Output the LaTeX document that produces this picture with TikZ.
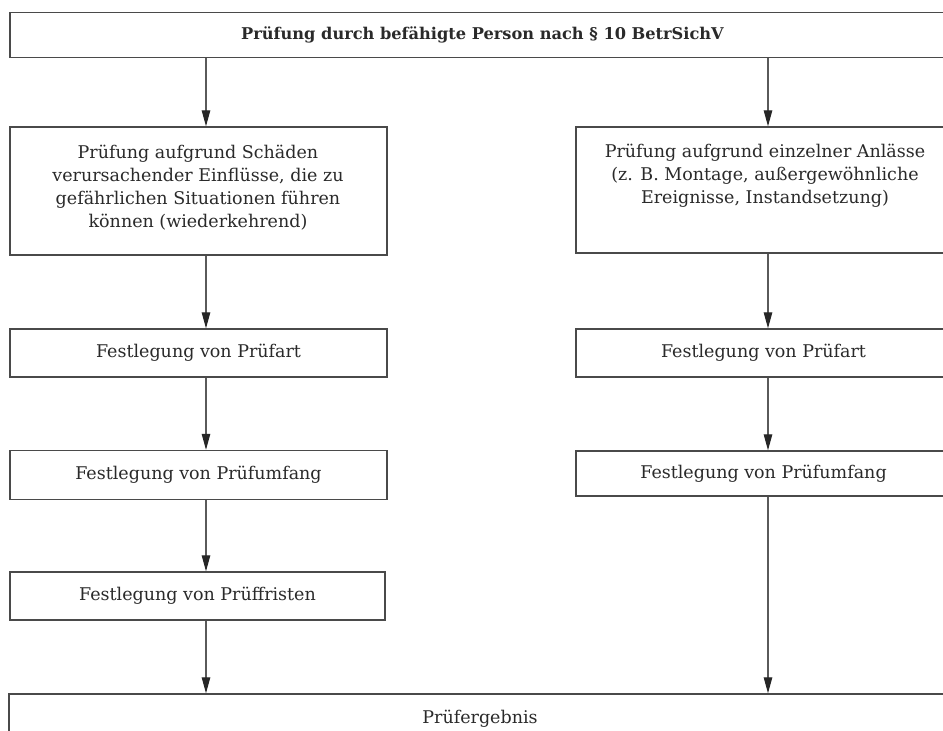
\documentclass[tikz,border=0pt]{standalone}
\usepackage{fontspec}
\setmainfont{DejaVu Serif}
\usetikzlibrary{arrows.meta}
\definecolor{boxgray}{HTML}{4A4A4A}
\definecolor{linegray}{HTML}{5A5A5A}
\definecolor{txt}{HTML}{2A2A2A}
\newcommand\normtext{\fontsize{17.5bp}{23bp}\selectfont}
\newcommand\toptext{\fontsize{16.2bp}{18bp}\selectfont\bfseries}
\begin{document}
\begin{tikzpicture}[x=1bp,y=-1bp,
  box/.style={draw=boxgray, line width=1.4bp, fill=white, inner sep=0pt, text=txt, font=\normtext},
  label/.style={inner sep=0pt, text=txt, font=\normtext, align=center},
  arr/.style={draw=linegray, line width=1.1bp, -{Triangle[length=16bp,width=8.5bp,fill=black!85,color=black!85]}}
]
\useasboundingbox (0,0) rectangle (943,731);
\clip (0,0) rectangle (943,731);
\fill[white] (0,0) rectangle (943,731);
% column coordinates
\coordinate (colL) at (206,0);
\coordinate (colR) at (768,0);
% boxes
\node[box, minimum width=945bp, minimum height=45bp, font=\toptext] (top) at (482.5,35) {Prüfung durch befähigte Person nach § 10 BetrSichV};
\node[box, minimum width=377bp, minimum height=128bp] (L2) at (198.5,191) {};
\node[label] (L2text) at (198,188) {Prüfung aufgrund Schäden\\verursachender Einflüsse, die zu\\gefährlichen Situationen führen\\können (wiederkehrend)};
\node[box, minimum width=375bp, minimum height=126bp] (R2) at (763.5,190) {};
\node[label] (R2text) at (765,176) {Prüfung aufgrund einzelner Anlässe\\(z. B. Montage, außergewöhnliche\\Ereignisse, Instandsetzung)};
\node[box, minimum width=377bp, minimum height=48bp] (L3) at (198.5,353) {Festlegung von Prüfart};
\node[box, minimum width=375bp, minimum height=48bp] (R3) at (763.5,353) {Festlegung von Prüfart};
\node[box, minimum width=377bp, minimum height=49bp] (L4) at (198.5,475) {Festlegung von Prüfumfang};
\node[box, minimum width=375bp, minimum height=45bp] (R4) at (763.5,473.5) {Festlegung von Prüfumfang};
\node[box, minimum width=375bp, minimum height=48bp] (L5) at (197.5,596) {Festlegung von Prüffristen};
\node[box, minimum width=942bp, minimum height=50bp] (B) at (480,719) {Prüfergebnis};
% connectors
\draw[arr] (top.south -| colL) -- (L2.north -| colL);
\draw[arr] (top.south -| colR) -- (R2.north -| colR);
\draw[arr] (L2.south -| colL) -- (L3.north -| colL);
\draw[arr] (R2.south -| colR) -- (R3.north -| colR);
\draw[arr] (L3.south -| colL) -- (L4.north -| colL);
\draw[arr] (R3.south -| colR) -- (R4.north -| colR);
\draw[arr] (L4.south -| colL) -- (L5.north -| colL);
\draw[arr] (L5.south -| colL) -- (B.north -| colL);
\draw[arr] (R4.south -| colR) -- (B.north -| colR);
\end{tikzpicture}
\end{document}
